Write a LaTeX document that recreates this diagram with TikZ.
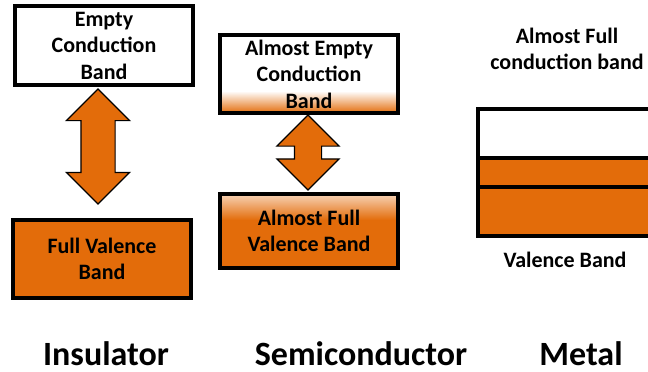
\documentclass[tikz,border=0pt]{standalone}
\usepackage{fontspec}
\setmainfont{Carlito}
\usepackage{xcolor}
\usetikzlibrary{shapes,positioning}
\definecolor{bandorange}{RGB}{227,108,10}
\tikzset{band/.style={rectangle,draw,line width=4pt,minimum width=178pt,inner sep=0pt,align=center,font=\bfseries\fontsize{22}{26.5}\selectfont}}
\tikzset{gaparrow/.style={double arrow,draw,line width=1.2pt,fill=bandorange,rotate=90,inner xsep=0pt,double arrow head extend=14.5pt,double arrow tip angle=90}}
\tikzset{lbl/.style={align=center,font=\bfseries\fontsize{22}{26}\selectfont}}
\tikzset{kind/.style={anchor=base,inner sep=0pt,font=\bfseries\fontsize{34}{40}\selectfont}}

\begin{document}
\begin{tikzpicture}[x=1pt,y=-1pt]
    \useasboundingbox (0,0) rectangle (648,372);

    % insulator
    \node[band,fill=white,minimum height=79pt] (ic)at (104,45.5) {Empty\\Conduction\\Band};
    \node[band,fill=bandorange,minimum height=78pt] (iv)at (102,259) {Full Valence\\Band};
    \node[gaparrow,minimum height=115pt,inner ysep=16.5pt] (ia)at (98,146.5) {};

    % semiconductor
    \node[band,minimum height=78pt,path picture={
        \fill[white] (path picture bounding box.north west) rectangle (path picture bounding box.south east);
        \shade[top color=white,bottom color=bandorange] ([yshift=22pt]path picture bounding box.south west) rectangle (path picture bounding box.south east);}] (sc)at (309,74) {Almost Empty\\Conduction\\Band};
    \node[band,minimum height=74pt,path picture={
        \fill[bandorange] (path picture bounding box.north west) rectangle (path picture bounding box.south east);
        \shade[top color=bandorange!30,bottom color=bandorange] (path picture bounding box.north west) rectangle ([yshift=-26pt]path picture bounding box.north east);}] (sv)at (309,231) {Almost Full\\Valence Band};
    \node[gaparrow,minimum height=75pt,inner ysep=13pt,double arrow head extend=17.5pt] (sa)at (308,152.5) {};

    % metal
    \node[band,fill=white,minimum width=192pt,minimum height=49pt] (mc)at (574,133.5) {};
    \node[band,fill=bandorange,minimum width=192pt,minimum height=29pt] (mo)at (574,172.5) {};
    \node[band,fill=bandorange,minimum width=192pt,minimum height=49pt] (mv)at (574,211.5) {};
    \node[lbl] (mct)at (567,49) {Almost Full\\conduction band};
    \node[lbl] (mvt)at (565,260) {Valence Band};

    % names
    \node[kind] (ins)at (106,365) {Insulator};
    \node[kind] (sem)at (361,365) {Semiconductor};
    \node[kind] (met)at (581,365) {Metal};
\end{tikzpicture}
\end{document}
